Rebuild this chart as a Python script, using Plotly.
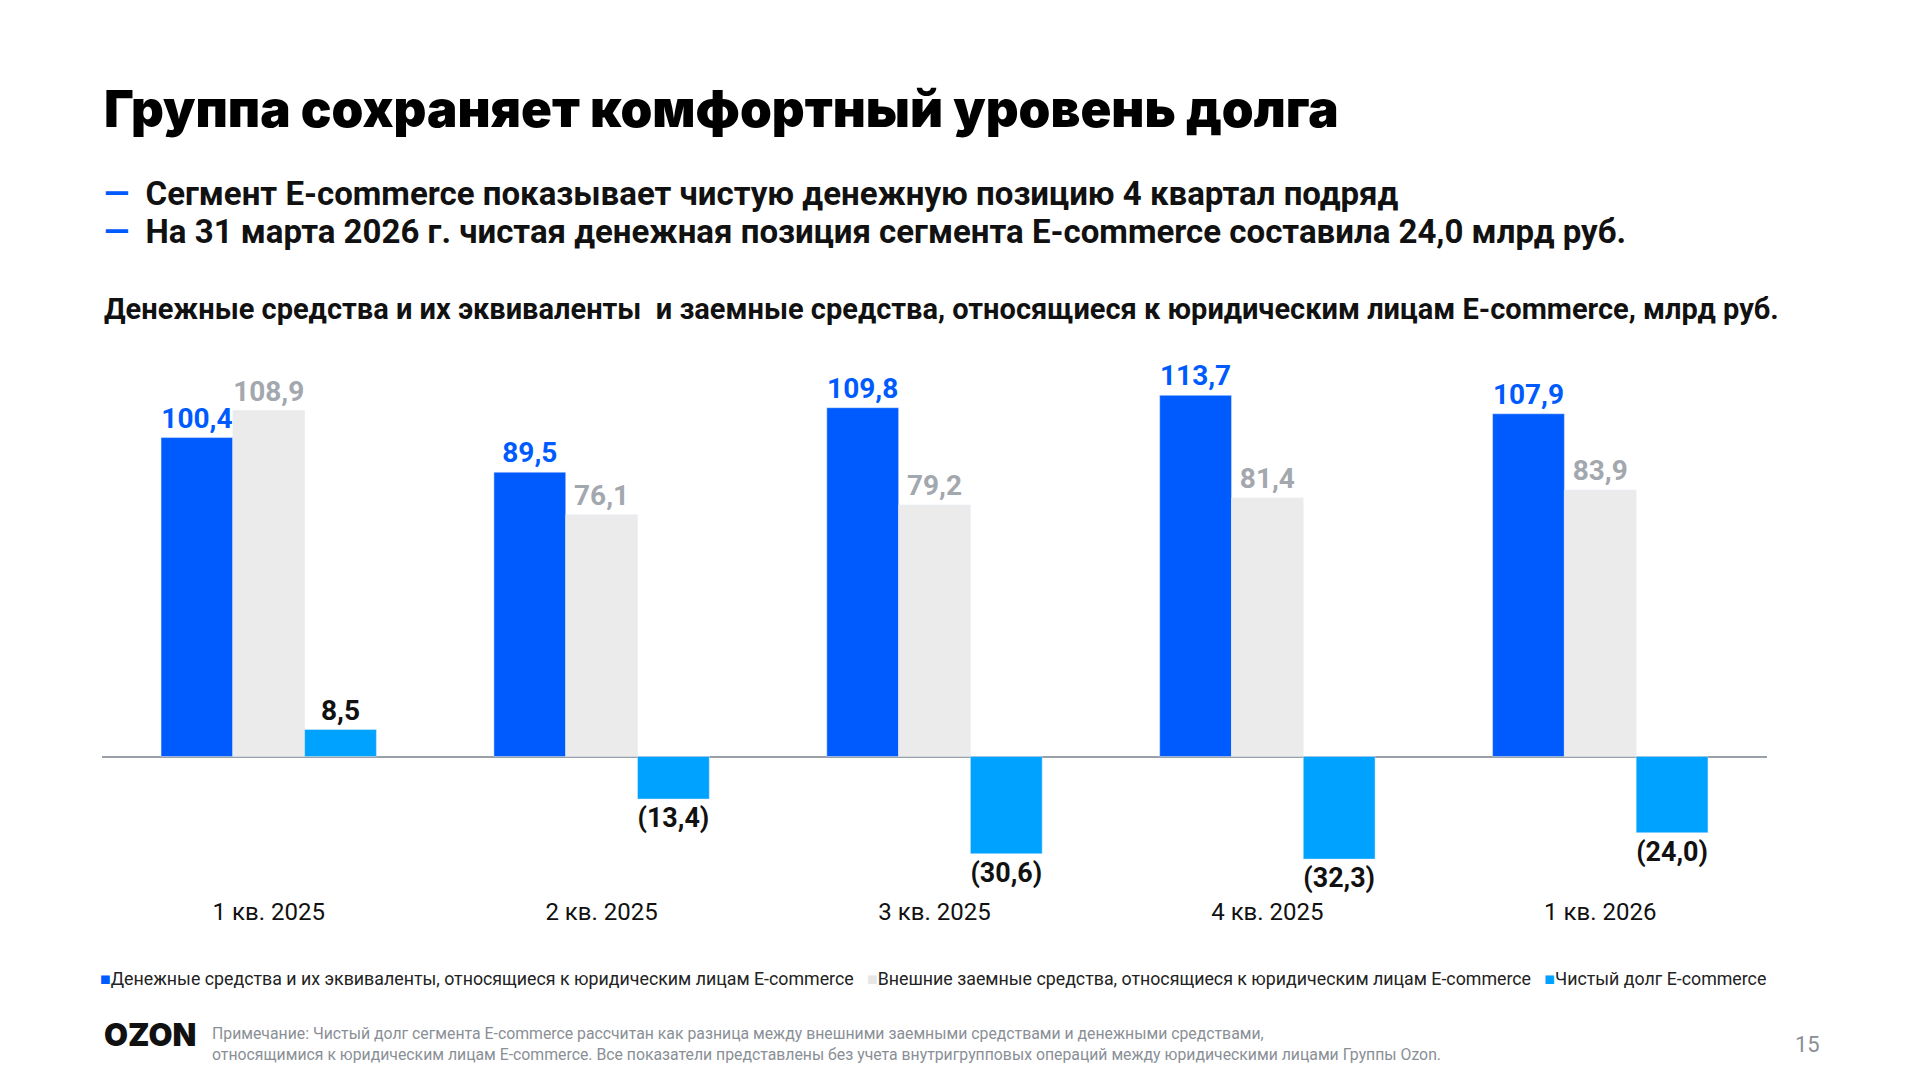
import plotly.graph_objects as go

categories = ["1 кв. 2025", "2 кв. 2025", "3 кв. 2025", "4 кв. 2025", "1 кв. 2026"]
cash = [100.4, 89.5, 109.8, 113.7, 107.9]
borrowings = [108.9, 76.1, 79.2, 81.4, 83.9]
net_debt = [8.5, -13.4, -30.6, -32.3, -24.0]

def fmt(v):
    s = f"{abs(v):.1f}".replace(".", ",")
    return f"({s})" if v < 0 else s

BLUE, GRAY, CYAN = "#005BFF", "#EBEBEB", "#00A2FF"
F = "Roboto"
fig = go.Figure()
for name, vals, col, tcol in [
    ("cash", cash, BLUE, BLUE),
    ("borr", borrowings, GRAY, "#A3A7AE"),
    ("net", net_debt, CYAN, "#111111"),
]:
    fig.add_bar(x=categories, y=vals, marker_color=col, text=[fmt(v) for v in vals],
                textposition="outside", cliponaxis=False,
                textfont=dict(family=F, size=28, color=tcol, weight="bold"), showlegend=False)

fig.update_layout(
    width=1920, height=1080, paper_bgcolor="white", plot_bgcolor="white",
    margin=dict(l=0, r=0, t=0, b=0), barmode="group", bargap=0.353, bargroupgap=0,
    font=dict(family=F, color="#111"),
    xaxis=dict(domain=[0.0491, 0.916], range=[-0.5, 4.5], showgrid=False, ticks="",
               tickfont=dict(family=F, size=24, color="#111"), showline=False),
    yaxis=dict(domain=[0.179, 0.6746], range=[-43.5, 125], visible=True, showgrid=False,
               showticklabels=False, zeroline=True, zerolinecolor="#9AA0A8", zerolinewidth=2),
)

def ann(x, y, text, size, color="#111", bold=False, xanchor="left", fam=F, weight=None):
    fig.add_annotation(x=x, y=y, xref="paper", yref="paper", text=text, showarrow=False,
                       xanchor=xanchor, yanchor="middle", align="left",
                       font=dict(family=fam, size=size, color=color,
                                 weight=weight if weight else ("bold" if bold else "normal")))

X0 = 0.049
ann(X0, 1 - 0.0934, "Группа сохраняет комфортный уровень долга", 51, "#000", fam="Inter", weight=900)
ann(X0, 1 - 0.172, "<span style='color:#005BFF'>—</span>  Сегмент E-commerce показывает чистую денежную позицию 4 квартал подряд", 33, "#111", True)
ann(X0, 1 - 0.207, "<span style='color:#005BFF'>—</span>  На 31 марта 2026 г. чистая денежная позиция сегмента E-commerce составила 24,0 млрд руб.", 33, "#111", True)
ann(X0, 1 - 0.279, "Денежные средства и их эквиваленты  и заемные средства, относящиеся к юридическим лицам E-commerce, млрд руб.", 29, "#111", True)
ann(X0 - 0.002, 1 - 0.899,
    "<span style='color:#005BFF'>■</span>Денежные средства и их эквиваленты, относящиеся к юридическим лицам E-commerce"
    "   <span style='color:#E6E6E6'>■</span>Внешние заемные средства, относящиеся к юридическим лицам E-commerce"
    "   <span style='color:#00A2FF'>■</span>Чистый долг E-commerce", 17.8, "#222")
ann(X0, 1 - 0.950, "OZON", 31, "#111", fam="Inter", weight=900)
fig.add_annotation(x=0.105, y=1 - 0.959, xref="paper", yref="paper", showarrow=False,
                   xanchor="left", yanchor="middle", align="left",
                   text="Примечание: Чистый долг сегмента E-commerce рассчитан как разница между внешними заемными средствами и денежными средствами,<br>"
                        "относящимися к юридическим лицам E-commerce. Все показатели представлены без учета внутригрупповых операций между юридическими лицами Группы Ozon.",
                   font=dict(family=F, size=15.8, color="#8A8F96"))
ann(0.945, 1 - 0.960, "15", 22, "#8A8F96", False, xanchor="right")

fig.write_html("out.html")
